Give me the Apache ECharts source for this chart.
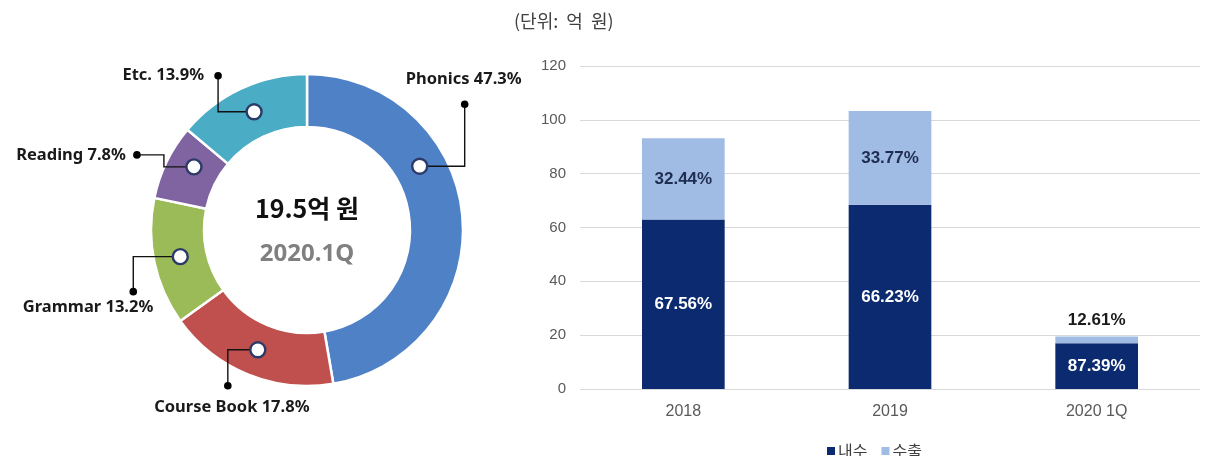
<!DOCTYPE html>
<html>
<head>
<meta charset="utf-8">
<style>
  html, body { margin: 0; padding: 0; background: #fff; }
  #chart { width: 1209px; height: 456px; }
</style>
<script src="https://cdn.jsdelivr.net/npm/echarts@6/dist/echarts.min.js"></script>
</head>
<body>
<div id="chart"></div>
<script>
// ---- data ----
// 2020 1Q sales mix by product line (%)
const mixNames  = ['Phonics', 'Course Book', 'Grammar', 'Reading', 'Etc.'];
const mixShares = [47.3, 17.8, 13.2, 7.8, 13.9];
const mixColors = ['#4f81c7', '#c0504d', '#9bbb59', '#8064a2', '#4bacc6'];

// yearly sales (억 원) split into domestic / export shares (%)
const periods        = ['2018', '2019', '2020 1Q'];
const periodTotals   = [93.2, 103.3, 19.5];
const domesticShares = [67.56, 66.23, 87.39];
const exportShares   = [32.44, 33.77, 12.61];
const yTicks         = [0, 20, 40, 60, 80, 100, 120];

const domesticValues = periodTotals.map((t, i) => +(t * domesticShares[i] / 100).toFixed(2));
const exportValues   = periodTotals.map((t, i) => +(t * exportShares[i] / 100).toFixed(2));

// ---- donut layout ----
const CENTER = [307, 230];
const R_OUT = 156, R_IN = 103, R_MID = (R_OUT + R_IN) / 2;

// leader line geometry for each slice label (offsets in px from the ring marker)
const leaders = [
  { shift: -6.85, path: [[45, 0], [45, -62]],               lbl: { dx: -1, dy: -25, align: 'center' } },
  { shift: 0,     path: [[-30, 0], [-30, 36]],              lbl: { dx: 4,  dy: 21,  align: 'center' } },
  { shift: 0,     path: [[-47, 0], [-47, 35]],              lbl: { dx: 20, dy: 16,  align: 'right' } },
  { shift: 0.9,   path: [[-30, 0], [-30, -12], [-57, -12]], lbl: { dx: -11, dy: 0,  align: 'right' } },
  { shift: 0.25,  path: [[-36, 0], [-36, -36]],             lbl: { dx: -14, dy: -1, align: 'right' } }
];

// mid-angle of every slice, in percent of the full circle
let acc = 0;
const markerData = mixShares.map((v, i) => {
  const mid = acc + v / 2;
  acc += v;
  return [R_MID, mid + leaders[i].shift, i];
});

function renderLeader(params, api) {
  const i = api.value(2);
  const p = api.coord([api.value(0), api.value(1)]);
  const L = leaders[i];
  const pts = [p].concat(L.path.map(o => [p[0] + o[0], p[1] + o[1]]));
  const end = pts[pts.length - 1];
  return {
    type: 'group',
    children: [
      { type: 'polyline', shape: { points: pts }, style: { stroke: '#111', lineWidth: 1.4, fill: null } },
      { type: 'circle', shape: { cx: end[0], cy: end[1], r: 3.8 }, style: { fill: '#000' } },
      { type: 'circle', shape: { cx: p[0], cy: p[1], r: 7.5 }, style: { fill: '#fff', stroke: '#2b3a66', lineWidth: 2.4 } },
      {
        type: 'text', x: end[0] + L.lbl.dx, y: end[1] + L.lbl.dy,
        style: {
          text: mixNames[i] + ' ' + mixShares[i].toFixed(1) + '%',
          font: 'bold 16.5px "Noto Sans", "Open Sans", sans-serif',
          fill: '#1a1a1a',
          align: L.lbl.align, verticalAlign: 'middle',
          textAlign: L.lbl.align, textVerticalAlign: 'middle'
        }
      }
    ]
  };
}

const labelFont = '"Liberation Sans", Arial, sans-serif';

const chart = echarts.init(document.getElementById('chart'), null, { renderer: 'canvas' });
chart.setOption({
  animation: false,
  backgroundColor: '#ffffff',
  polar: { center: CENTER, radius: R_OUT },
  angleAxis: { type: 'value', min: 0, max: 100, startAngle: 90, clockwise: true, show: false },
  radiusAxis: { type: 'value', min: 0, max: R_OUT, show: false },
  grid: { left: 580, right: 9, top: 66, bottom: 67 },
  xAxis: {
    type: 'category', data: periods,
    axisLine: { show: false }, axisTick: { show: false },
    axisLabel: { color: '#595959', fontSize: 16, fontFamily: labelFont, margin: 15 }
  },
  yAxis: {
    type: 'value', min: yTicks[0], max: yTicks[yTicks.length - 1], interval: yTicks[1] - yTicks[0],
    axisLine: { show: false }, axisTick: { show: false },
    axisLabel: { color: '#595959', fontSize: 15, fontFamily: labelFont, margin: 14 },
    splitLine: { lineStyle: { color: '#d9d9d9', width: 1 } }
  },
  legend: {
    data: ['내수', '수출'],
    left: 822, top: 438,
    itemWidth: 8, itemHeight: 8, itemGap: 14,
    icon: 'rect',
    textStyle: { color: '#404040', fontSize: 16, fontFamily: '"Noto Sans CJK KR", sans-serif', padding: [0, 0, 0, -2] }
  },
  graphic: [
    {
      type: 'text', left: 514, top: 12,
      style: { text: '(단위:  억  원)', font: '18px "Noto Sans CJK KR", sans-serif', fill: '#404040' }
    },
    {
      type: 'text', x: CENTER[0], y: CENTER[1] - 22,
      style: {
        text: periodTotals[2].toFixed(1) + '억 원',
        font: 'bold 25px "Noto Sans CJK KR", "Noto Sans", sans-serif',
        fill: '#111', align: 'center', verticalAlign: 'middle'
      }
    },
    {
      type: 'text', x: CENTER[0], y: CENTER[1] + 24,
      style: {
        text: '2020.1Q',
        font: 'bold 24px "Noto Sans", sans-serif',
        fill: '#808080', align: 'center', verticalAlign: 'middle'
      }
    }
  ],
  series: [
    {
      type: 'pie',
      center: CENTER,
      radius: [R_IN, R_OUT],
      startAngle: 90,
      clockwise: true,
      silent: true,
      label: { show: false },
      labelLine: { show: false },
      itemStyle: { borderColor: '#fff', borderWidth: 2.5 },
      data: mixNames.map((n, i) => ({ name: n, value: mixShares[i], itemStyle: { color: mixColors[i] } }))
    },
    {
      type: 'custom',
      coordinateSystem: 'polar',
      silent: true,
      renderItem: renderLeader,
      data: markerData,
      z: 10
    },
    {
      name: '내수', type: 'bar', stack: 'sales', barWidth: '40%',
      itemStyle: { color: '#0b2a6f' },
      label: {
        show: true, position: 'inside', color: '#ffffff',
        fontSize: 17, fontWeight: 'bold', fontFamily: labelFont,
        formatter: p => domesticShares[p.dataIndex].toFixed(2) + '%'
      },
      data: domesticValues
    },
    {
      name: '수출', type: 'bar', stack: 'sales', barWidth: '40%',
      itemStyle: { color: '#a0bbe4' },
      label: {
        show: true, position: 'inside', color: '#1f2d50',
        fontSize: 17, fontWeight: 'bold', fontFamily: labelFont,
        formatter: p => exportShares[p.dataIndex].toFixed(2) + '%'
      },
      data: exportValues.map((v, i) => i === 2
        ? { value: v, label: { position: 'top', distance: 8, color: '#1a1a1a' } }
        : v)
    }
  ]
});
</script>
</body>
</html>
